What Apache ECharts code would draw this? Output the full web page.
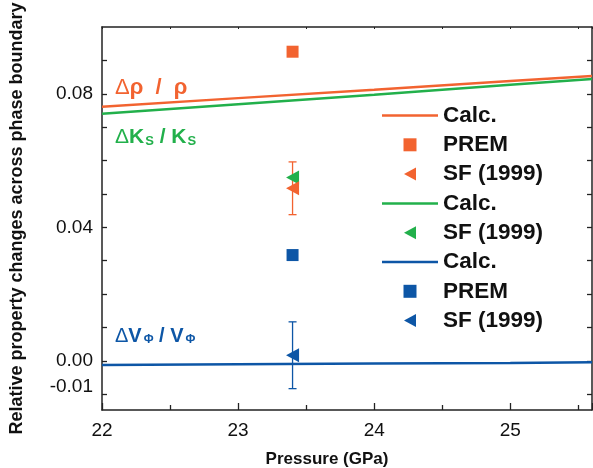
<!DOCTYPE html>
<html><head><meta charset="utf-8">
<script src="https://cdn.jsdelivr.net/npm/echarts@6/dist/echarts.min.js"></script>
<style>html,body{margin:0;padding:0;background:#fff}#c{width:593px;height:468px}</style>
</head><body><div id="c"></div>
<script>
const FONT = 'Liberation Sans, Arial, sans-serif';
// Data
const pressure = [22, 23, 24, 25, 25.6];
const rhoCalc  = [0.0761, 0.0787, 0.0812, 0.0838, 0.0853];
const ksCalc   = [0.0740, 0.0769, 0.0797, 0.0827, 0.0844];
const vphiCalc = [-0.0012, -0.0010, -0.0008, -0.0006, -0.0004];
const obsP = 23.4;
const rhoPREM = 0.0926;
const rhoSF = 0.0517, rhoSFerr = 0.0079;
const ksSF = 0.0549;
const vphiPREM = 0.0317;
const vphiSF = 0.0017, vphiSFerr = 0.0100;
const yTicks = [-0.01, 0, 0.01, 0.02, 0.03, 0.04, 0.05, 0.06, 0.07, 0.08, 0.09];
const yLabels = [-0.01, 0, 0.04, 0.08];
const xRange = [22, 25.6];
const yRange = [-0.0147, 0.1];

const ORANGE = '#F26330', GREEN = '#22B04B', BLUE = '#0D56A6';
const ZW = '\u200b';
const names = ['Calc.', 'PREM', 'SF (1999)', 'Calc.' + ZW, 'SF (1999)' + ZW, 'Calc.' + ZW + ZW, 'PREM' + ZW, 'SF (1999)' + ZW + ZW];
const ICON_LINE = 'path://M0,0H56V2.5H0Z';
const ICON_SQ = 'path://M0,0H12V12H0Z';
const ICON_TRI = 'path://M0,6.5L12,0V13Z';
const icons = [ICON_LINE, ICON_SQ, ICON_TRI, ICON_LINE, ICON_TRI, ICON_LINE, ICON_SQ, ICON_TRI];

const zip = (xs, ys) => xs.map((x, i) => [x, ys[i]]);

function errBar(color) {
  return function (params, api) {
    const x = api.value(0);
    const lo = api.coord([x, api.value(1)]);
    const hi = api.coord([x, api.value(2)]);
    const cw = 4;
    const st = { stroke: color, lineWidth: 1.3 };
    return { type: 'group', children: [
      { type: 'line', shape: { x1: lo[0], y1: lo[1], x2: hi[0], y2: hi[1] }, style: st },
      { type: 'line', shape: { x1: lo[0] - cw, y1: lo[1], x2: lo[0] + cw, y2: lo[1] }, style: st },
      { type: 'line', shape: { x1: hi[0] - cw, y1: hi[1], x2: hi[0] + cw, y2: hi[1] }, style: st }
    ]};
  };
}

const chart = echarts.init(document.getElementById('c'), null, { renderer: 'canvas' });
const axisLine = { show: true, onZero: false, lineStyle: { color: '#222', width: 1.5 } };
const sym = c => ({ color: c, opacity: 1 });
const option = {
  animation: false,
  textStyle: { fontFamily: FONT },
  grid: { left: 102, right: 1, top: 27, bottom: 58, outerBoundsMode: 'none', containLabel: false },
  xAxis: [{
    type: 'value', min: xRange[0], max: xRange[1], interval: 1,
    axisLine: axisLine, splitLine: { show: false },
    axisTick: { inside: true, length: 7, lineStyle: { color: '#222', width: 1.3 } },
    minorTick: { show: true, splitNumber: 2, length: 5, lineStyle: { color: '#222', width: 1.3 } },
    axisLabel: { fontSize: 19, color: '#111', margin: 11, fontFamily: FONT,
      formatter: v => (v === xRange[1] ? '' : String(v)) },
    name: 'Pressure (GPa)', nameLocation: 'middle', nameGap: 41,
    nameTextStyle: { fontSize: 17, fontWeight: 'bold', color: '#111', fontFamily: FONT, padding: [0, 40, 0, 0] }
  }, {
    type: 'value', position: 'top', min: xRange[0], max: xRange[1], interval: 1,
    axisLine: axisLine, splitLine: { show: false }, axisLabel: { show: false },
    axisTick: { inside: true, length: 2, lineStyle: { color: '#222' } },
    minorTick: { show: true, splitNumber: 2, length: 2, lineStyle: { color: '#222' } }
  }],
  yAxis: [{
    type: 'value', min: yRange[0], max: yRange[1],
    axisLine: axisLine, splitLine: { show: false },
    axisTick: { inside: true, length: 5, customValues: yTicks, lineStyle: { color: '#222', width: 1.3 } },
    axisLabel: { customValues: yLabels, fontSize: 19, color: '#111', margin: 9, fontFamily: FONT,
      formatter: v => (Math.abs(v + 0.01) < 1e-9 ? '{u|-0.01}' : v.toFixed(2)),
      rich: { u: { fontSize: 19, color: '#111', fontFamily: FONT, padding: [0, 0, 16, 0] } } },
    name: 'Relative property changes across phase boundary', nameLocation: 'middle', nameGap: 76,
    nameTextStyle: { fontSize: 18, fontWeight: 'bold', color: '#111', fontFamily: FONT }
  }, {
    type: 'value', position: 'right', min: yRange[0], max: yRange[1],
    axisLine: axisLine, splitLine: { show: false }, axisLabel: { show: false },
    axisTick: { inside: true, length: 5, customValues: yTicks, lineStyle: { color: '#222', width: 1.3 } }
  }],
  legend: {
    orient: 'vertical', left: 377, top: 99,
    itemWidth: 56, itemHeight: 13, itemGap: 6.3,
    data: names.map((n, i) => ({ name: n, icon: icons[i] })),
    formatter: n => n.replace(/\u200b/g, ''),
    textStyle: { fontSize: 22.5, fontWeight: 'bold', color: '#111', fontFamily: FONT, lineHeight: 22 }
  },
  series: [
    { name: names[0], type: 'line', data: zip(pressure, rhoCalc), symbol: 'none', lineStyle: { color: ORANGE, width: 2.5 }, itemStyle: sym(ORANGE), z: 2 },
    { name: names[1], type: 'scatter', data: [[obsP, rhoPREM]], symbol: 'rect', symbolSize: 12, itemStyle: sym(ORANGE), z: 5 },
    { name: names[2], type: 'scatter', data: [[obsP, rhoSF]], symbol: 'triangle', symbolRotate: 90, symbolSize: [14, 13], itemStyle: sym(ORANGE), z: 6 },
    { name: names[3], type: 'line', data: zip(pressure, ksCalc), symbol: 'none', lineStyle: { color: GREEN, width: 2.5 }, itemStyle: sym(GREEN), z: 2 },
    { name: names[4], type: 'scatter', data: [[obsP, ksSF]], symbol: 'triangle', symbolRotate: 90, symbolSize: [14, 13], itemStyle: sym(GREEN), z: 5 },
    { name: names[5], type: 'line', data: zip(pressure, vphiCalc), symbol: 'none', lineStyle: { color: BLUE, width: 2.5 }, itemStyle: sym(BLUE), z: 2 },
    { name: names[6], type: 'scatter', data: [[obsP, vphiPREM]], symbol: 'rect', symbolSize: 12, itemStyle: sym(BLUE), z: 5 },
    { name: names[7], type: 'scatter', data: [[obsP, vphiSF]], symbol: 'triangle', symbolRotate: 90, symbolSize: [14, 13], itemStyle: sym(BLUE), z: 6 },
    { type: 'custom', renderItem: errBar(ORANGE), data: [[obsP, rhoSF - rhoSFerr, rhoSF + rhoSFerr]], z: 4, silent: true },
    { type: 'custom', renderItem: errBar(BLUE), data: [[obsP, vphiSF - vphiSFerr, vphiSF + vphiSFerr]], z: 4, silent: true }
  ],
  graphic: [
    { type: 'text', left: 115, top: 77, style: {
      text: '{d|Δ}{b|ρ  /  ρ}', fill: ORANGE,
      rich: { d: { fontSize: 22, fill: ORANGE, fontFamily: FONT }, b: { fontSize: 22, fontWeight: 'bold', fill: ORANGE, fontFamily: FONT } } } },
    { type: 'text', left: 115, top: 127, style: {
      text: '{d|Δ}{b|K}{s|S}{b| / K}{s|S}', fill: GREEN,
      rich: { d: { fontSize: 21, fill: GREEN, fontFamily: FONT, verticalAlign: 'bottom' },
              b: { fontSize: 21, fontWeight: 'bold', fill: GREEN, fontFamily: FONT, verticalAlign: 'bottom' },
              s: { fontSize: 13, fontWeight: 'bold', fill: GREEN, fontFamily: FONT, padding: [16, 0, 0, 1], verticalAlign: 'bottom' } } } },
    { type: 'text', left: 115, top: 326, style: {
      text: '{d|Δ}{b|V}{s|Φ}{b| / V}{s|Φ}', fill: BLUE,
      rich: { d: { fontSize: 20, fill: BLUE, fontFamily: FONT, verticalAlign: 'bottom' },
              b: { fontSize: 20, fontWeight: 'bold', fill: BLUE, fontFamily: FONT, verticalAlign: 'bottom' },
              s: { fontSize: 12, fontWeight: 'bold', fill: BLUE, fontFamily: FONT, padding: [15, 0, 0, 2], verticalAlign: 'bottom' } } } }
  ]
};
chart.setOption(option);
</script></body></html>
